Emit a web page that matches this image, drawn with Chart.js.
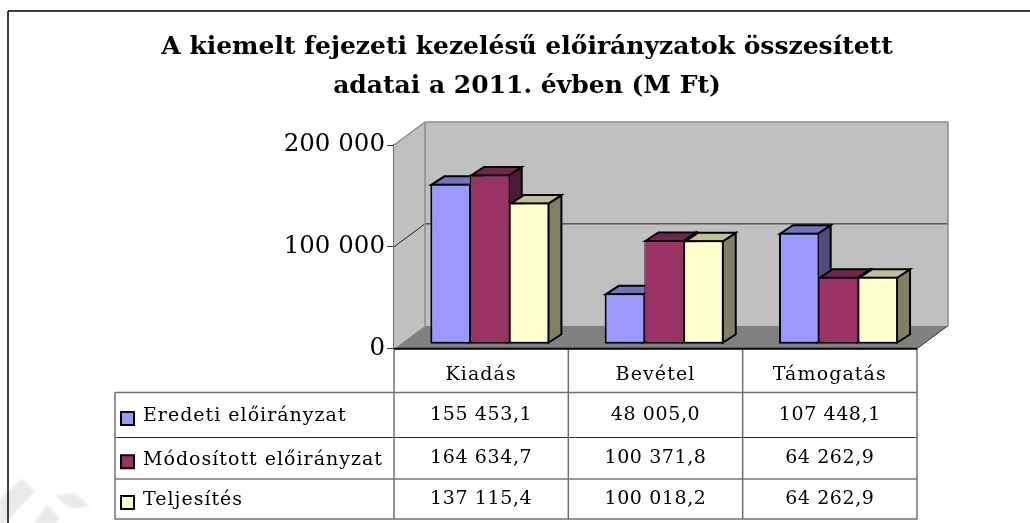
<!DOCTYPE html>
<html>
<head>
<meta charset="utf-8">
<script src="https://cdn.jsdelivr.net/npm/chart.js@4"></script>
<style>
    html, body { margin: 0; padding: 0; background: #fff; overflow: hidden; }
    #wrap { position: relative; width: 1030px; height: 523px; }
</style>
</head>
<body>
<div id="wrap"><canvas id="budgetChart" width="1030" height="523"></canvas></div>
<script>
const categories = ['Kiadás', 'Bevétel', 'Támogatás'];
const seriesNames = ['Eredeti előirányzat', 'Módosított előirányzat', 'Teljesítés'];
const eredeti = [155453.1, 48005.0, 107448.1];
const modositott = [164634.7, 100371.8, 64262.9];
const teljesites = [137115.4, 100018.2, 64262.9];
const titleLines = ['A kiemelt fejezeti kezelésű előirányzatok összesített', 'adatai a 2011. évben (M Ft)'];

const seriesFront = ['#9999FF', '#993366', '#FFFFCC'];
const seriesTop = ['#7373BF', '#73264D', '#BFBF99'];
const seriesSide = ['#4D4D80', '#4D1A33', '#808066'];
const seriesBorder = [
    { top: 2, left: 2, bottom: 2, right: 1 },
    { top: 2, left: 1, bottom: 2, right: 1 },
    { top: 2, left: 1, bottom: 2, right: 2 }
];

const SERIF = '"DejaVu Serif", serif';

// box depth and how far the bars stand back from the front edge
const wallDx = 31, wallDy = 23;
const barDx = 8.7, barDy = 6.5;
const boxDx = 13, boxDy = 8.5;

function formatValue(v) {
    const parts = v.toFixed(1).split('.');
    return parts[0].replace(/\B(?=(\d{3})+$)/g, ' ') + ',' + parts[1];
}

function poly(ctx, pts, fill, stroke, lw) {
    ctx.beginPath();
    pts.forEach((p, i) => i ? ctx.lineTo(p[0], p[1]) : ctx.moveTo(p[0], p[1]));
    ctx.closePath();
    if (fill) { ctx.fillStyle = fill; ctx.fill(); }
    if (stroke) { ctx.strokeStyle = stroke; ctx.lineWidth = lw; ctx.stroke(); }
}

function line(ctx, x1, y1, x2, y2, color, lw) {
    ctx.beginPath();
    ctx.moveTo(x1, y1);
    ctx.lineTo(x2, y2);
    ctx.strokeStyle = color;
    ctx.lineWidth = lw;
    ctx.stroke();
}

// frame and the faint watermark behind everything
const pagePlugin = {
    id: 'page',
    beforeDraw(chart) {
        const ctx = chart.ctx;
        ctx.save();
        ctx.filter = 'blur(1px)';
        poly(ctx, [[0, 528], [0, 498], [22, 479], [35, 491], [8, 520]], '#EAEAEA');
        poly(ctx, [[33, 525], [47, 505], [60, 518], [55, 525]], '#EAEAEA');
        poly(ctx, [[55, 496], [75, 493], [90, 507], [70, 508]], '#EAEAEA');
        ctx.filter = 'none';
        line(ctx, 8, 523, 8, 11, '#000', 1.5);
        line(ctx, 8, 11, 1030, 11, '#000', 1.5);
        ctx.restore();

        // the tick labels under the plot are set a little wider
        const xScale = chart.scales.x, drawLabels = xScale.drawLabels;
        if (!xScale.spaced) {
            xScale.spaced = true;
            xScale.drawLabels = function (area) {
                ctx.save();
                ctx.letterSpacing = '1.1px';
                drawLabels.call(this, area);
                ctx.restore();
            };
        }
    }
};

// walls, floor and gridlines of the 3D box, placed from the scales
const wallsPlugin = {
    id: 'walls',
    beforeDatasetsDraw(chart) {
        const ctx = chart.ctx, y = chart.scales.y, a = chart.chartArea;
        const base = y.getPixelForValue(0), top = y.getPixelForValue(200000);
        ctx.save();
        poly(ctx, [[a.left + wallDx, top - wallDy], [a.right + wallDx, top - wallDy], [a.right + wallDx, base - wallDy], [a.left + wallDx, base - wallDy]], '#C0C0C0');
        poly(ctx, [[a.left, top], [a.left + wallDx, top - wallDy], [a.left + wallDx, base - wallDy], [a.left, base]], '#C0C0C0');
        poly(ctx, [[a.left, base], [a.left + wallDx, base - wallDy], [a.right + wallDx, base - wallDy], [a.right, base]], '#808080');
        const mid = y.getPixelForValue(100000);
        line(ctx, a.left, mid, a.left + wallDx, mid - wallDy, '#222', 1);
        line(ctx, a.left + wallDx, mid - wallDy, a.right + wallDx, mid - wallDy, '#222', 1);
        line(ctx, a.left, top, a.left + wallDx, top - wallDy, '#8C8C8C', 1.5);
        line(ctx, a.left + wallDx, top - wallDy, a.right + wallDx, top - wallDy, '#8C8C8C', 1.5);
        line(ctx, a.right + wallDx, top - wallDy, a.right + wallDx, base - wallDy, '#8C8C8C', 1.5);
        line(ctx, a.left + wallDx, top - wallDy, a.left + wallDx, base - wallDy, '#8C8C8C', 1.5);
        line(ctx, a.right, base, a.right + wallDx, base - wallDy, '#333', 1);
        ctx.restore();
    }
};

// side and top faces first, left to right, then the library's bars as the front faces
const depthPlugin = {
    id: 'depth',
    beforeDatasetsDraw(chart) {
        const ctx = chart.ctx;
        ctx.save();
        ctx.translate(barDx, -barDy);
        chart.data.datasets.forEach((ds, i) => {
            chart.getDatasetMeta(i).data.forEach(bar => {
                const left = bar.x - bar.width / 2 + 1, right = bar.x + bar.width / 2 - 1;
                const t = bar.y + 1, b = bar.base - 1;
                poly(ctx, [[right, t], [right + boxDx, t - boxDy], [right + boxDx, b - boxDy], [right, b]], seriesSide[i], '#000', 2);
                poly(ctx, [[left, t], [left + boxDx, t - boxDy], [right + boxDx, t - boxDy], [right, t]], seriesTop[i], '#000', 2);
            });
        });
        ctx.restore();
    },
    beforeDatasetDraw(chart) {
        chart.ctx.save();
        chart.ctx.translate(barDx, -barDy);
    },
    afterDatasetDraw(chart) {
        chart.ctx.restore();
    }
};

// axis line, front floor edge and the data table under the plot
const tablePlugin = {
    id: 'dataTable',
    afterDraw(chart) {
        const ctx = chart.ctx, y = chart.scales.y, a = chart.chartArea, x = chart.scales.x;
        const base = y.getPixelForValue(0);
        const colEdges = [a.left, a.left + (a.right - a.left) / 3, a.left + 2 * (a.right - a.left) / 3, a.right];
        const tableLeft = 115, rowTops = [392.5, 437.5, 479, 519];
        const rows = [eredeti, modositott, teljesites];
        ctx.save();
        rowTops.forEach((ry, r) => line(ctx, tableLeft, ry, a.right, ry, r === 1 || r === 2 ? '#333' : '#707070', r === 1 || r === 2 ? 1 : 1.5));
        colEdges.forEach(cx => line(ctx, cx, base, cx, rowTops[3], '#707070', 1.5));
        line(ctx, tableLeft, rowTops[0], tableLeft, rowTops[3], '#707070', 1.5);
        line(ctx, a.left, base, a.right, base, '#000', 2);
        ctx.font = '19px ' + SERIF;
        ctx.textBaseline = 'middle';
        rows.forEach((vals, r) => {
            const my = (rowTops[r] + rowTops[r + 1]) / 2;
            ctx.lineWidth = 2;
            ctx.strokeStyle = '#000';
            ctx.fillStyle = seriesFront[r];
            ctx.fillRect(121, my + 3 - 6, 13, 13);
            ctx.strokeRect(121, my + 3 - 6, 13, 13);
            ctx.fillStyle = '#000';
            ctx.textAlign = 'left';
            ctx.letterSpacing = '1px';
            ctx.fillText(seriesNames[r], 143, my + 1.5);
            ctx.textAlign = 'center';
            ctx.letterSpacing = '0.6px';
            vals.forEach((v, c) => ctx.fillText(formatValue(v), x.getPixelForValue(c), my));
        });
        ctx.restore();
    }
};

new Chart(document.getElementById('budgetChart'), {
    type: 'bar',
    data: {
        labels: categories,
        datasets: [eredeti, modositott, teljesites].map((values, i) => ({
            label: seriesNames[i],
            data: values,
            base: -1500,
            backgroundColor: seriesFront[i],
            borderColor: '#000',
            borderWidth: seriesBorder[i],
            borderSkipped: false,
            clip: false,
            categoryPercentage: 0.683,
            barPercentage: 1
        }))
    },
    plugins: [pagePlugin, wallsPlugin, depthPlugin, tablePlugin],
    options: {
        responsive: false,
        animation: false,
        layout: { padding: { left: 137, right: 113, top: 0, bottom: 0 } },
        plugins: {
            legend: { display: false },
            tooltip: { enabled: false },
            title: {
                display: true,
                text: titleLines,
                color: '#000',
                font: { family: SERIF, size: 25, weight: 'bold', lineHeight: 1.56 },
                padding: { top: 27.5, bottom: 39.5 }
            }
        },
        scales: {
            x: {
                afterFit(scale) { scale.height = 174.3; },
                grid: { display: false },
                border: { display: false },
                ticks: {
                    color: '#000',
                    padding: 7,
                    maxRotation: 0,
                    font: { family: SERIF, size: 19 }
                }
            },
            y: {
                min: 0,
                max: 200000,
                afterFit(scale) { scale.width = 257; },
                grid: { drawOnChartArea: false, tickLength: 7, tickColor: '#444' },
                border: { color: '#707070', width: 1.5 },
                ticks: {
                    stepSize: 100000,
                    color: '#000',
                    padding: 2,
                    font: { family: SERIF, size: 24.5 },
                    callback: v => String(v).replace(/\B(?=(\d{3})+$)/g, ' ')
                }
            }
        }
    }
});
</script>
</body>
</html>
